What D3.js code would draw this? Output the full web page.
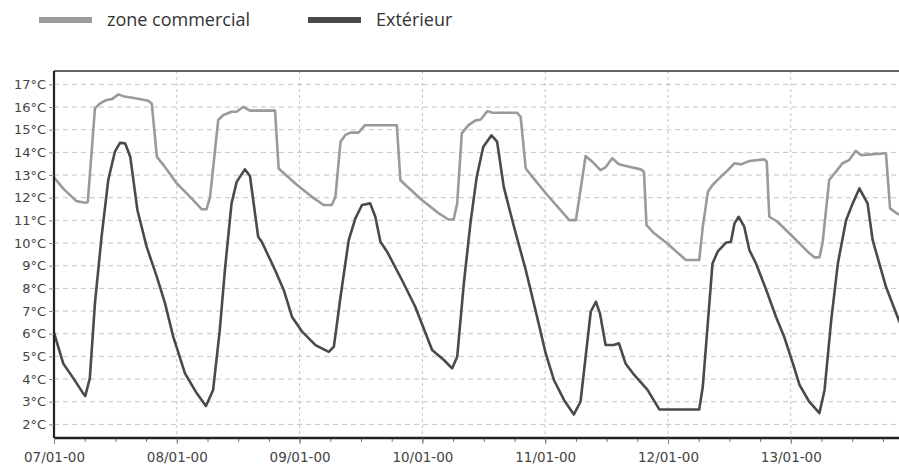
<!DOCTYPE html>
<html>
<head>
<meta charset="utf-8">
<script src="https://cdn.jsdelivr.net/npm/d3@7"></script>
<style>
  html, body { margin: 0; padding: 0; background: #fff; }
  svg { display: block; }
</style>
</head>
<body>
<svg id="chart" width="899" height="467"></svg>
<script>
// ---- Data (hours since 07/01 00:00, temperature °C) ----
const seriesNames = ["zone commercial", "Extérieur"];
const dayLabels = ["07/01-00", "08/01-00", "09/01-00", "10/01-00", "11/01-00", "12/01-00", "13/01-00"];
const yTickValues = [2, 3, 4, 5, 6, 7, 8, 9, 10, 11, 12, 13, 14, 15, 16, 17];

const zoneHours = [0, 1.8, 4.4, 6.1, 6.6, 8.0, 9.0, 10.3, 11.3, 12.6, 13.5, 16.2, 18.4, 19.1, 20.1, 21.4, 24.0, 26.6, 28.9, 29.8, 30.5, 32.1, 33.1, 34.7, 35.7, 37.0, 38.3, 43.2, 43.9, 47.5, 50.4, 52.7, 54.3, 55.0, 56.0, 56.9, 57.9, 59.5, 60.8, 67.0, 67.7, 68.7, 71.9, 75.2, 77.1, 78.1, 78.8, 79.7, 81.0, 82.3, 83.4, 84.7, 85.7, 90.5, 91.2, 92.2, 93.5, 96.4, 99.0, 100.7, 102.0, 102.3, 103.9, 105.2, 106.8, 107.8, 109.1, 110.4, 112.4, 114.7, 115.3, 115.8, 117.3, 119.8, 123.5, 126.1, 126.8, 127.8, 128.7, 130.0, 131.7, 133.0, 134.3, 135.9, 138.8, 139.3, 139.8, 141.4, 144.4, 147.3, 148.6, 149.6, 150.2, 151.5, 152.8, 154.1, 155.4, 156.7, 157.7, 162.6, 163.4, 164.9, 166.0];
const zoneTemps = [12.9, 12.4, 11.85, 11.78, 11.8, 15.94, 16.16, 16.31, 16.35, 16.56, 16.48, 16.38, 16.28, 16.16, 13.81, 13.44, 12.63, 12.04, 11.49, 11.49, 12.04, 15.43, 15.65, 15.79, 15.79, 16.01, 15.84, 15.84, 13.29, 12.56, 12.04, 11.68, 11.68, 12.04, 14.47, 14.76, 14.87, 14.87, 15.2, 15.2, 12.78, 12.56, 11.9, 11.31, 11.04, 11.04, 11.75, 14.84, 15.2, 15.4, 15.45, 15.82, 15.75, 15.75, 15.57, 13.29, 12.92, 12.12, 11.45, 11.01, 11.01, 11.45, 13.84, 13.59, 13.22, 13.34, 13.74, 13.48, 13.37, 13.25, 13.14, 10.79, 10.43, 9.99, 9.25, 9.25, 10.72, 12.26, 12.56, 12.85, 13.22, 13.52, 13.47, 13.62, 13.69, 13.6, 11.16, 10.94, 10.28, 9.62, 9.37, 9.37, 9.99, 12.78, 13.14, 13.52, 13.66, 14.07, 13.88, 13.96, 11.53, 11.28, 11.2];

const extHours = [0, 1.8, 3.8, 5.7, 6.1, 7.0, 8.0, 9.3, 10.6, 11.9, 12.9, 13.9, 14.9, 16.3, 18.1, 20.1, 21.7, 23.3, 25.6, 27.9, 29.7, 31.1, 32.4, 33.4, 34.7, 35.7, 37.3, 38.3, 39.9, 40.6, 43.2, 44.9, 46.5, 48.5, 51.1, 53.7, 54.7, 56.0, 57.6, 58.9, 60.2, 61.8, 62.8, 63.8, 65.1, 68.0, 70.6, 73.9, 76.2, 77.8, 78.8, 80.1, 81.4, 82.6, 83.9, 85.5, 86.6, 87.9, 89.9, 92.2, 94.1, 96.1, 97.7, 99.7, 101.6, 102.9, 103.9, 104.9, 105.9, 106.7, 107.8, 109.4, 110.4, 111.7, 113.4, 116.0, 118.3, 126.1, 126.8, 128.7, 129.7, 131.3, 132.3, 133.0, 133.8, 134.9, 135.9, 137.2, 139.2, 141.1, 142.7, 144.4, 145.7, 147.6, 149.6, 150.6, 151.9, 153.2, 154.8, 156.1, 157.4, 159.0, 160.0, 162.6, 165.1, 166.0];
const extTemps = [6.05, 4.69, 4.03, 3.37, 3.25, 4.03, 7.34, 10.28, 12.78, 14.03, 14.42, 14.4, 13.81, 11.46, 9.84, 8.51, 7.34, 5.87, 4.25, 3.37, 2.81, 3.52, 6.16, 8.81, 11.75, 12.7, 13.25, 12.96, 10.28, 10.06, 8.81, 7.93, 6.75, 6.09, 5.5, 5.2, 5.43, 7.63, 10.13, 11.09, 11.68, 11.75, 11.16, 10.06, 9.62, 8.37, 7.19, 5.28, 4.84, 4.47, 4.98, 8.22, 10.9, 12.9, 14.25, 14.75, 14.47, 12.48, 10.72, 8.81, 7.04, 5.13, 3.96, 3.07, 2.44, 3.0, 4.98, 6.97, 7.41, 6.9, 5.5, 5.5, 5.58, 4.69, 4.18, 3.52, 2.66, 2.66, 3.66, 9.1, 9.62, 10.01, 10.06, 10.87, 11.16, 10.72, 9.69, 9.1, 7.93, 6.75, 5.87, 4.69, 3.74, 3.0, 2.5, 3.52, 6.6, 9.1, 11.01, 11.75, 12.41, 11.75, 10.13, 8.07, 6.6, 6.2];

const seriesColors = ["#9a9a9a", "#4a4a4a"];

// ---- Layout ----
const W = 899, H = 467;
const mLeft = 54, mTop = 71, mBottom = 438, mRight = 899;
const dayPx = 122.8;

const svg = d3.select("#chart");

const x = d3.scaleLinear().domain([0, 168]).range([mLeft, mLeft + 7 * dayPx]);
const y = d3.scaleLinear().domain([1.4, 17.59]).range([mBottom, mTop]);

svg.append("defs").append("clipPath").attr("id", "plotclip")
  .append("rect").attr("x", mLeft).attr("y", mTop).attr("width", mRight - mLeft).attr("height", mBottom - mTop);

// Horizontal grid
svg.append("g").selectAll("line").data(yTickValues).join("line")
  .attr("x1", mLeft).attr("x2", mRight)
  .attr("y1", d => y(d)).attr("y2", d => y(d))
  .attr("stroke", "#c4c4c4").attr("stroke-width", 1)
  .attr("stroke-dasharray", "5,4");

// Vertical grid at days
const dayTicks = d3.range(0, 168, 24);
svg.append("g").selectAll("line").data(dayTicks.slice(1)).join("line")
  .attr("x1", d => x(d)).attr("x2", d => x(d))
  .attr("y1", mTop).attr("y2", mBottom)
  .attr("stroke", "#c4c4c4").attr("stroke-width", 1)
  .attr("stroke-dasharray", "3,3");

// Lines
const line = d3.line().x(d => x(d[0])).y(d => y(d[1]));
const zoneData = zoneHours.map((h, i) => [h, zoneTemps[i]]);
const extData = extHours.map((h, i) => [h, extTemps[i]]);

const plot = svg.append("g").attr("clip-path", "url(#plotclip)");
plot.append("path").datum(zoneData).attr("d", line)
  .attr("fill", "none").attr("stroke", seriesColors[0]).attr("stroke-width", 2.6)
  .attr("stroke-linejoin", "round");
plot.append("path").datum(extData).attr("d", line)
  .attr("fill", "none").attr("stroke", seriesColors[1]).attr("stroke-width", 2.6)
  .attr("stroke-linejoin", "round");

// Top border
svg.append("line").attr("x1", mLeft).attr("x2", mRight).attr("y1", mTop).attr("y2", mTop)
  .attr("stroke", "#333").attr("stroke-width", 1.6);

// Y axis
const yAxis = d3.axisLeft(y).tickValues(yTickValues).tickSize(5).tickPadding(3)
  .tickFormat(d => d + "°C");
const gy = svg.append("g").attr("transform", `translate(${mLeft},0)`).call(yAxis);
gy.select(".domain").attr("stroke", "#222").attr("stroke-width", 2.2)
  .attr("d", `M0,${mTop}V${mBottom}`);
gy.selectAll(".tick line").attr("stroke", "#888");
gy.selectAll(".tick text").attr("font-family", "DejaVu Sans, Verdana, sans-serif")
  .attr("font-size", 13).attr("fill", "#444");

// X axis: minor ticks every 6 hours, labelled ticks every day
const xMinor = d3.axisBottom(x).tickValues(d3.range(0, 169, 6)).tickSize(4).tickFormat("");
const gxm = svg.append("g").attr("transform", `translate(0,${mBottom})`).call(xMinor);
gxm.select(".domain").remove();
gxm.selectAll(".tick line").attr("stroke", "#777");

const xAxis = d3.axisBottom(x).tickValues(dayTicks).tickSize(6).tickPadding(8)
  .tickFormat((d, i) => dayLabels[i]);
const gx = svg.append("g").attr("transform", `translate(0,${mBottom})`).call(xAxis);
gx.select(".domain").attr("stroke", "#222").attr("stroke-width", 2.6)
  .attr("d", `M${mLeft},0H${mRight}`);
gx.selectAll(".tick line").attr("stroke", "#777");
gx.selectAll(".tick text").attr("font-family", "DejaVu Sans, Verdana, sans-serif")
  .attr("font-size", 13.5).attr("fill", "#444");

// Legend
const legendX = [39, 308];
const leg = svg.append("g");
seriesNames.forEach((name, i) => {
  leg.append("rect").attr("x", legendX[i]).attr("y", 17).attr("width", 53).attr("height", 6)
    .attr("fill", seriesColors[i]);
  leg.append("text").attr("x", legendX[i] + 68).attr("y", 26)
    .attr("font-family", "'Open Sans', sans-serif").attr("font-size", 18)
    .attr("fill", "#333").text(name);
});
</script>
</body>
</html>
